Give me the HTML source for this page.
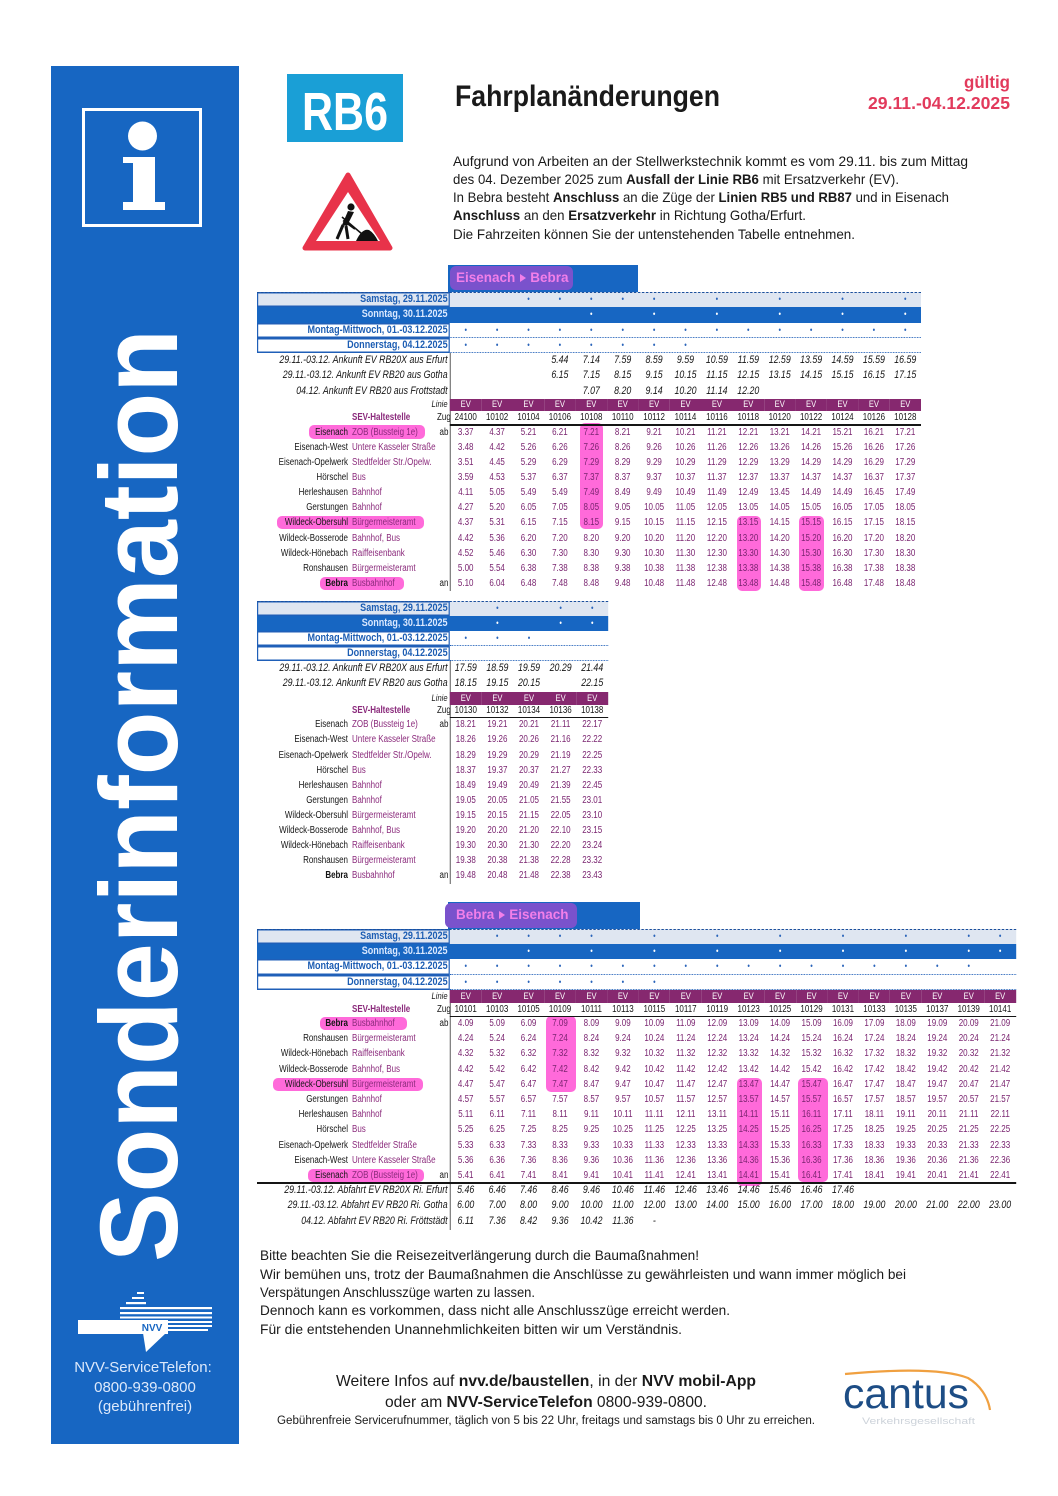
<!DOCTYPE html>
<html><head><meta charset="utf-8"><title>RB6 Fahrplanänderungen</title>
<style>
*{margin:0;padding:0;box-sizing:border-box}
html,body{width:1058px;height:1496px;background:#fff;overflow:hidden}
body{position:relative;font-family:"Liberation Sans",sans-serif;color:#1a1a1a}
.a{position:absolute;white-space:nowrap}
.T{position:absolute;left:257px;transform:scaleX(.8);transform-origin:0 0;font-size:10px;z-index:2}
.r{display:flex;position:relative;white-space:nowrap}
.r>*{flex:none;font-style:normal;font-weight:normal;text-align:center;text-decoration:none}
.T1 i{width:39.25px}.T2 i{width:39.5px}.T3 i{width:39.3px}
.lb{width:241.25px;text-align:right;padding-right:3px;font-weight:bold!important;color:#1c5db3;font-size:11.3px}
.lb2{width:241.25px;text-align:right!important;padding-right:3px}
.tw{width:113.75px;text-align:right!important;color:#151515}
.st{width:111.25px;text-align:left!important;padding-left:5px;color:#8b2b7c;font-size:10px}
.ab{width:16.25px;text-align:right!important;padding-right:2px;color:#151515}
.h{height:15px;line-height:15px}
.h i{font-size:9px;color:#2a64ba}
.sat{background:#dfe6f1}
.sat:before{content:"";position:absolute;left:0;right:0;top:0;border-top:1px dashed #1b4f9c}
.sun{background:#1766c2}.sun .lb{color:#dbe9ff}.sun i{color:#fff}
.sat .lb,.mon .lb,.don .lb{box-shadow:inset 0 0 0 1.5px #1f5fb8}
.mon:after,.don:after{content:"";position:absolute;left:241.25px;right:0;bottom:0;border-bottom:1px dotted #1f5fb8}
.ar{height:15.3px;line-height:15.3px;color:#151515}
.ar>*{font-style:italic!important;font-size:11px}
.ln{height:12.5px;line-height:12.5px}
.ln .lb2{font-style:italic;font-size:9.5px}
.ln i{background:#86286f;color:#fff;font-size:9.5px}
.zg{height:13.5px;line-height:13.5px}
.zg i{color:#151515}
.zg:after{content:"";position:absolute;left:241.25px;right:0;bottom:-1px;height:1.5px;background:#151515}
.sev{font-weight:bold!important;font-size:10px}
.d{height:15.1px;line-height:15.1px}
.d i{color:#7a2470}
.T3 .d{height:15.2px;line-height:15.2px}
.tp:before{content:"";position:absolute;left:0;right:0;top:-1px;height:1.5px;background:#151515}
.vl{position:absolute;left:241px;width:1.2px;background:#333}
.hl{position:absolute;background:#ff5ad6;border-radius:5px;z-index:1;opacity:.9}
.tab{position:absolute;background:#1766c2;z-index:2}
.tabh{position:absolute;background:#7a52cc;border-radius:6px}
.tabt{position:absolute;font-weight:bold;font-size:13.5px;color:#f27fe9;white-space:nowrap;line-height:20px}
.arr{display:inline-block;border-left:6px solid #f27fe9;border-top:4px solid transparent;border-bottom:4px solid transparent;margin:0 4px 1px 5px;vertical-align:middle}
</style></head><body>

<svg class="a" style="left:0;top:0;z-index:0" width="1058" height="1496" viewBox="0 0 1058 1496" font-family="Liberation Sans, sans-serif">
<rect x="51" y="66" width="188" height="1378" fill="#1766c2"/>
<rect x="83.5" y="109.5" width="117" height="116" fill="none" stroke="#fff" stroke-width="3"/>
<circle cx="142.5" cy="136" r="14.5" fill="#fff"/>
<path d="M123,157H155V202H165V210H123V202H133V163H123Z" fill="#fff"/>
<text transform="translate(177,1262) rotate(-90)" font-size="110" font-weight="bold" fill="#fff" textLength="933" lengthAdjust="spacingAndGlyphs">Sonderinformation</text>
<g fill="#fff">
<rect x="137" y="1292" width="7" height="2"/><rect x="132" y="1297" width="12" height="2"/>
<rect x="126" y="1302" width="20" height="2.2"/>
<rect x="120" y="1307" width="92" height="2.2"/>
<rect x="120" y="1312" width="92" height="2.2"/>
<rect x="120" y="1316.5" width="92" height="2"/>
<rect x="78" y="1320" width="90" height="14"/>
<rect x="168" y="1321" width="44" height="2"/><rect x="168" y="1325" width="44" height="2"/><rect x="168" y="1329" width="40" height="2"/>
<polygon points="143,1333 166,1333 146,1352"/>
</g>
<text x="152" y="1331" font-size="10" font-weight="bold" fill="#1766c2" text-anchor="middle">NVV</text>
<text x="143" y="1372" font-size="15" fill="#dde9fb" text-anchor="middle">NVV-ServiceTelefon:</text>
<text x="145" y="1392" font-size="15" fill="#dde9fb" text-anchor="middle">0800-939-0800</text>
<text x="145" y="1411" font-size="15" fill="#dde9fb" text-anchor="middle">(gebührenfrei)</text>

<rect x="287" y="74" width="116" height="68" fill="#1a9fd6"/>
<text x="302" y="130" font-size="54" font-weight="bold" fill="#fff" textLength="86" lengthAdjust="spacingAndGlyphs">RB6</text>
<text x="455" y="106" font-size="30" font-weight="bold" fill="#1a1a1a" textLength="265" lengthAdjust="spacingAndGlyphs">Fahrplanänderungen</text>
<text x="964" y="88" font-size="17.5" font-weight="bold" fill="#e23a5c" textLength="46" lengthAdjust="spacingAndGlyphs">gültig</text>
<text x="868" y="109" font-size="17.5" font-weight="bold" fill="#e23a5c" textLength="142" lengthAdjust="spacingAndGlyphs">29.11.-04.12.2025</text>

<g transform="translate(300,170)">
<polygon points="48,5 90,78 5,78" fill="#e8334a" stroke="#e8334a" stroke-width="5" stroke-linejoin="round"/>
<polygon points="48,22 80,71 16,71" fill="#fff"/>
<circle cx="51" cy="37" r="3.6" fill="#111"/>
<path d="M48,41 L54,42 L47,56 L42,55 Z" fill="#111"/>
<path d="M43,55 L37,69 M46,56 L48,69" stroke="#111" stroke-width="3" fill="none"/>
<path d="M50,44 L44,51 L55,59" stroke="#111" stroke-width="2" fill="none"/>
<path d="M42,47 L62,64" stroke="#111" stroke-width="1.5"/>
<path d="M56,71 Q62,58 69,60 Q74,63 78,71 Z" fill="#111"/>
</g>

<g font-size="14" fill="#1a1a1a">
<text x="453" y="166" textLength="515" lengthAdjust="spacingAndGlyphs">Aufgrund von Arbeiten an der Stellwerkstechnik kommt es vom 29.11. bis zum Mittag</text>
<text x="453" y="184" textLength="446" lengthAdjust="spacingAndGlyphs">des 04. Dezember 2025 zum <tspan font-weight="bold">Ausfall der Linie RB6</tspan>  mit Ersatzverkehr (EV).</text>
<text x="453" y="202" textLength="496" lengthAdjust="spacingAndGlyphs">In Bebra besteht <tspan font-weight="bold">Anschluss</tspan> an die Züge der <tspan font-weight="bold">Linien RB5 und RB87</tspan> und in Eisenach</text>
<text x="453" y="220" textLength="353" lengthAdjust="spacingAndGlyphs"><tspan font-weight="bold">Anschluss</tspan> an den <tspan font-weight="bold">Ersatzverkehr</tspan> in Richtung Gotha/Erfurt.</text>
<text x="453" y="239" textLength="402" lengthAdjust="spacingAndGlyphs">Die Fahrzeiten können Sie der untenstehenden Tabelle entnehmen.</text>
</g>

<g font-size="14" fill="#1a1a1a">
<text x="260" y="1260" textLength="439" lengthAdjust="spacingAndGlyphs">Bitte beachten Sie die Reisezeitverlängerung durch die Baumaßnahmen!</text>
<text x="260" y="1279" textLength="646" lengthAdjust="spacingAndGlyphs">Wir bemühen uns, trotz der Baumaßnahmen die Anschlüsse zu gewährleisten und wann immer möglich bei</text>
<text x="260" y="1297" textLength="275" lengthAdjust="spacingAndGlyphs">Verspätungen Anschlusszüge warten zu lassen.</text>
<text x="260" y="1315" textLength="470" lengthAdjust="spacingAndGlyphs">Dennoch kann es vorkommen, dass nicht alle Anschlusszüge erreicht werden.</text>
<text x="260" y="1334" textLength="422" lengthAdjust="spacingAndGlyphs">Für die entstehenden Unannehmlichkeiten bitten wir um Verständnis.</text>
</g>
<text x="336" y="1386" font-size="16" fill="#1a1a1a" textLength="420" lengthAdjust="spacingAndGlyphs">Weitere Infos auf <tspan font-weight="bold">nvv.de/baustellen</tspan>, in der <tspan font-weight="bold">NVV mobil-App</tspan></text>
<text x="385" y="1407" font-size="16" fill="#1a1a1a" textLength="322" lengthAdjust="spacingAndGlyphs">oder am <tspan font-weight="bold">NVV-ServiceTelefon</tspan> 0800-939-0800.</text>
<text x="277" y="1424" font-size="11.5" fill="#1a1a1a" textLength="538" lengthAdjust="spacingAndGlyphs">Gebührenfreie Servicerufnummer, täglich von 5 bis 22 Uhr, freitags und samstags bis 0 Uhr zu erreichen.</text>

<path d="M845,1374 C900,1369 945,1369 968,1378 C980,1385 988,1397 990,1410" fill="none" stroke="#f0a040" stroke-width="2.2"/>
<text x="843" y="1408" font-size="43" fill="#1d4d85" textLength="126" lengthAdjust="spacingAndGlyphs">cantus</text>
<text x="862" y="1424" font-size="9.5" fill="#cdd3da" textLength="113" lengthAdjust="spacingAndGlyphs">Verkehrsgesellschaft</text>
</svg>

<!-- highlights -->
<div class="hl" style="left:580px;top:423px;width:23px;height:106px"></div>
<div class="hl" style="left:737px;top:516px;width:24px;height:75px"></div>
<div class="hl" style="left:799px;top:516px;width:25px;height:75px"></div>
<div class="hl" style="left:309px;top:425px;width:116px;height:14px"></div>
<div class="hl" style="left:277px;top:516px;width:147px;height:13px"></div>
<div class="hl" style="left:320px;top:577px;width:84px;height:13px"></div>
<div class="hl" style="left:546px;top:1016px;width:30px;height:76px"></div>
<div class="hl" style="left:737px;top:1078px;width:25px;height:108px"></div>
<div class="hl" style="left:798px;top:1078px;width:30px;height:104px"></div>
<div class="hl" style="left:320px;top:1017px;width:87px;height:13px"></div>
<div class="hl" style="left:273px;top:1078px;width:150px;height:13px"></div>
<div class="hl" style="left:308px;top:1169px;width:116px;height:13px"></div>

<!-- tabs -->
<div class="tab" style="left:448px;top:265px;width:190px;height:27px">
<div class="tabh" style="left:2px;top:1px;width:123px;height:24px"></div>
<div class="tabt" style="left:8px;top:3px">Eisenach<span class="arr"></span>Bebra</div></div>
<div class="tab" style="left:448px;top:902px;width:192px;height:27px">
<div class="tabh" style="left:-3px;top:1px;width:132px;height:25px"></div>
<div class="tabt" style="left:8px;top:3px">Bebra<span class="arr"></span>Eisenach</div></div>

<!-- TABLE 1 -->
<div class="T T1" style="top:292px;width:830px">
<div class="vl" style="top:61px;height:238px"></div>
<div class="r h sat"><b class="lb">Samstag, 29.11.2025</b><i></i><i></i><i>•</i><i>•</i><i>•</i><i>•</i><i>•</i><i></i><i>•</i><i></i><i>•</i><i></i><i>•</i><i></i><i>•</i></div>
<div class="r h sun" style="height:15.5px;line-height:15.5px"><b class="lb">Sonntag, 30.11.2025</b><i></i><i></i><i></i><i></i><i>•</i><i></i><i>•</i><i></i><i>•</i><i></i><i>•</i><i></i><i>•</i><i></i><i>•</i></div>
<div class="r h mon" style="height:15.5px;line-height:15.5px"><b class="lb">Montag-Mittwoch, 01.-03.12.2025</b><i>•</i><i>•</i><i>•</i><i>•</i><i>•</i><i>•</i><i>•</i><i>•</i><i>•</i><i>•</i><i>•</i><i>•</i><i>•</i><i>•</i><i>•</i></div>
<div class="r h don"><b class="lb">Donnerstag, 04.12.2025</b><i>•</i><i>•</i><i>•</i><i>•</i><i>•</i><i>•</i><i>•</i><i>•</i><i></i><i></i><i></i><i></i><i></i><i></i><i></i></div>
<div class="r ar"><span class="lb2">29.11.-03.12. Ankunft EV RB20X aus Erfurt</span><i></i><i></i><i></i><i>5.44</i><i>7.14</i><i>7.59</i><i>8.59</i><i>9.59</i><i>10.59</i><i>11.59</i><i>12.59</i><i>13.59</i><i>14.59</i><i>15.59</i><i>16.59</i></div>
<div class="r ar"><span class="lb2">29.11.-03.12. Ankunft EV RB20 aus Gotha</span><i></i><i></i><i></i><i>6.15</i><i>7.15</i><i>8.15</i><i>9.15</i><i>10.15</i><i>11.15</i><i>12.15</i><i>13.15</i><i>14.15</i><i>15.15</i><i>16.15</i><i>17.15</i></div>
<div class="r ar"><span class="lb2">04.12. Ankunft EV RB20 aus Frottstadt</span><i></i><i></i><i></i><i></i><i>7.07</i><i>8.20</i><i>9.14</i><i>10.20</i><i>11.14</i><i>12.20</i></div>
<div class="r ln"><span class="lb2">Linie</span><i>EV</i><i>EV</i><i>EV</i><i>EV</i><i>EV</i><i>EV</i><i>EV</i><i>EV</i><i>EV</i><i>EV</i><i>EV</i><i>EV</i><i>EV</i><i>EV</i><i>EV</i></div>
<div class="r zg"><span class="tw"></span><b class="st sev">SEV-Haltestelle</b><span class="ab">Zug</span><i>24100</i><i>10102</i><i>10104</i><i>10106</i><i>10108</i><i>10110</i><i>10112</i><i>10114</i><i>10116</i><i>10118</i><i>10120</i><i>10122</i><i>10124</i><i>10126</i><i>10128</i></div>
<div class="r d"><span class="tw">Eisenach</span><span class="st">ZOB (Bussteig 1e)</span><span class="ab">ab</span><i>3.37</i><i>4.37</i><i>5.21</i><i>6.21</i><i>7.21</i><i>8.21</i><i>9.21</i><i>10.21</i><i>11.21</i><i>12.21</i><i>13.21</i><i>14.21</i><i>15.21</i><i>16.21</i><i>17.21</i></div>
<div class="r d"><span class="tw">Eisenach-West</span><span class="st">Untere Kasseler Straße</span><span class="ab"></span><i>3.48</i><i>4.42</i><i>5.26</i><i>6.26</i><i>7.26</i><i>8.26</i><i>9.26</i><i>10.26</i><i>11.26</i><i>12.26</i><i>13.26</i><i>14.26</i><i>15.26</i><i>16.26</i><i>17.26</i></div>
<div class="r d"><span class="tw">Eisenach-Opelwerk</span><span class="st">Stedtfelder Str./Opelw.</span><span class="ab"></span><i>3.51</i><i>4.45</i><i>5.29</i><i>6.29</i><i>7.29</i><i>8.29</i><i>9.29</i><i>10.29</i><i>11.29</i><i>12.29</i><i>13.29</i><i>14.29</i><i>14.29</i><i>16.29</i><i>17.29</i></div>
<div class="r d"><span class="tw">Hörschel</span><span class="st">Bus</span><span class="ab"></span><i>3.59</i><i>4.53</i><i>5.37</i><i>6.37</i><i>7.37</i><i>8.37</i><i>9.37</i><i>10.37</i><i>11.37</i><i>12.37</i><i>13.37</i><i>14.37</i><i>14.37</i><i>16.37</i><i>17.37</i></div>
<div class="r d"><span class="tw">Herleshausen</span><span class="st">Bahnhof</span><span class="ab"></span><i>4.11</i><i>5.05</i><i>5.49</i><i>5.49</i><i>7.49</i><i>8.49</i><i>9.49</i><i>10.49</i><i>11.49</i><i>12.49</i><i>13.45</i><i>14.49</i><i>14.49</i><i>16.45</i><i>17.49</i></div>
<div class="r d"><span class="tw">Gerstungen</span><span class="st">Bahnhof</span><span class="ab"></span><i>4.27</i><i>5.20</i><i>6.05</i><i>7.05</i><i>8.05</i><i>9.05</i><i>10.05</i><i>11.05</i><i>12.05</i><i>13.05</i><i>14.05</i><i>15.05</i><i>16.05</i><i>17.05</i><i>18.05</i></div>
<div class="r d"><span class="tw">Wildeck-Obersuhl</span><span class="st">Bürgermeisteramt</span><span class="ab"></span><i>4.37</i><i>5.31</i><i>6.15</i><i>7.15</i><i>8.15</i><i>9.15</i><i>10.15</i><i>11.15</i><i>12.15</i><i>13.15</i><i>14.15</i><i>15.15</i><i>16.15</i><i>17.15</i><i>18.15</i></div>
<div class="r d"><span class="tw">Wildeck-Bosserode</span><span class="st">Bahnhof, Bus</span><span class="ab"></span><i>4.42</i><i>5.36</i><i>6.20</i><i>7.20</i><i>8.20</i><i>9.20</i><i>10.20</i><i>11.20</i><i>12.20</i><i>13.20</i><i>14.20</i><i>15.20</i><i>16.20</i><i>17.20</i><i>18.20</i></div>
<div class="r d"><span class="tw">Wildeck-Hönebach</span><span class="st">Raiffeisenbank</span><span class="ab"></span><i>4.52</i><i>5.46</i><i>6.30</i><i>7.30</i><i>8.30</i><i>9.30</i><i>10.30</i><i>11.30</i><i>12.30</i><i>13.30</i><i>14.30</i><i>15.30</i><i>16.30</i><i>17.30</i><i>18.30</i></div>
<div class="r d"><span class="tw">Ronshausen</span><span class="st">Bürgermeisteramt</span><span class="ab"></span><i>5.00</i><i>5.54</i><i>6.38</i><i>7.38</i><i>8.38</i><i>9.38</i><i>10.38</i><i>11.38</i><i>12.38</i><i>13.38</i><i>14.38</i><i>15.38</i><i>16.38</i><i>17.38</i><i>18.38</i></div>
<div class="r d"><span class="tw"><b>Bebra</b></span><span class="st">Busbahnhof</span><span class="ab">an</span><i>5.10</i><i>6.04</i><i>6.48</i><i>7.48</i><i>8.48</i><i>9.48</i><i>10.48</i><i>11.48</i><i>12.48</i><i>13.48</i><i>14.48</i><i>15.48</i><i>16.48</i><i>17.48</i><i>18.48</i></div>
</div>

<!-- TABLE 2 -->
<div class="T T2" style="top:600.5px;width:438.75px">
<div class="vl" style="top:60.5px;height:223px"></div>
<div class="r h sat" style="height:15.5px;line-height:15.5px"><b class="lb">Samstag, 29.11.2025</b><i></i><i>•</i><i></i><i>•</i><i>•</i></div>
<div class="r h sun"><b class="lb">Sonntag, 30.11.2025</b><i></i><i>•</i><i></i><i>•</i><i>•</i></div>
<div class="r h mon"><b class="lb">Montag-Mittwoch, 01.-03.12.2025</b><i>•</i><i>•</i><i>•</i><i></i><i></i></div>
<div class="r h don"><b class="lb">Donnerstag, 04.12.2025</b><i></i><i></i><i></i><i></i><i></i></div>
<div class="r ar"><span class="lb2">29.11.-03.12. Ankunft EV RB20X aus Erfurt</span><i>17.59</i><i>18.59</i><i>19.59</i><i>20.29</i><i>21.44</i></div>
<div class="r ar"><span class="lb2">29.11.-03.12. Ankunft EV RB20 aus Gotha</span><i>18.15</i><i>19.15</i><i>20.15</i><i></i><i>22.15</i></div>
<div class="r ln" style="height:13px;line-height:13px"><span class="lb2">Linie</span><i>EV</i><i>EV</i><i>EV</i><i>EV</i><i>EV</i></div>
<div class="r zg" style="height:12.8px;line-height:12.8px"><span class="tw"></span><b class="st sev">SEV-Haltestelle</b><span class="ab">Zug</span><i>10130</i><i>10132</i><i>10134</i><i>10136</i><i>10138</i></div>
<div class="r d"><span class="tw">Eisenach</span><span class="st">ZOB (Bussteig 1e)</span><span class="ab">ab</span><i>18.21</i><i>19.21</i><i>20.21</i><i>21.11</i><i>22.17</i></div>
<div class="r d"><span class="tw">Eisenach-West</span><span class="st">Untere Kasseler Straße</span><span class="ab"></span><i>18.26</i><i>19.26</i><i>20.26</i><i>21.16</i><i>22.22</i></div>
<div class="r d"><span class="tw">Eisenach-Opelwerk</span><span class="st">Stedtfelder Str./Opelw.</span><span class="ab"></span><i>18.29</i><i>19.29</i><i>20.29</i><i>21.19</i><i>22.25</i></div>
<div class="r d"><span class="tw">Hörschel</span><span class="st">Bus</span><span class="ab"></span><i>18.37</i><i>19.37</i><i>20.37</i><i>21.27</i><i>22.33</i></div>
<div class="r d"><span class="tw">Herleshausen</span><span class="st">Bahnhof</span><span class="ab"></span><i>18.49</i><i>19.49</i><i>20.49</i><i>21.39</i><i>22.45</i></div>
<div class="r d"><span class="tw">Gerstungen</span><span class="st">Bahnhof</span><span class="ab"></span><i>19.05</i><i>20.05</i><i>21.05</i><i>21.55</i><i>23.01</i></div>
<div class="r d"><span class="tw">Wildeck-Obersuhl</span><span class="st">Bürgermeisteramt</span><span class="ab"></span><i>19.15</i><i>20.15</i><i>21.15</i><i>22.05</i><i>23.10</i></div>
<div class="r d"><span class="tw">Wildeck-Bosserode</span><span class="st">Bahnhof, Bus</span><span class="ab"></span><i>19.20</i><i>20.20</i><i>21.20</i><i>22.10</i><i>23.15</i></div>
<div class="r d"><span class="tw">Wildeck-Hönebach</span><span class="st">Raiffeisenbank</span><span class="ab"></span><i>19.30</i><i>20.30</i><i>21.30</i><i>22.20</i><i>23.24</i></div>
<div class="r d"><span class="tw">Ronshausen</span><span class="st">Bürgermeisteramt</span><span class="ab"></span><i>19.38</i><i>20.38</i><i>21.38</i><i>22.28</i><i>23.32</i></div>
<div class="r d"><span class="tw"><b>Bebra</b></span><span class="st">Busbahnhof</span><span class="ab">an</span><i>19.48</i><i>20.48</i><i>21.48</i><i>22.38</i><i>23.43</i></div>
</div>

<!-- TABLE 3 -->
<div class="T T3" style="top:929px;width:948.65px">
<div class="vl" style="top:60.5px;height:240px"></div>
<div class="r h sat"><b class="lb">Samstag, 29.11.2025</b><i></i><i>•</i><i>•</i><i>•</i><i>•</i><i></i><i>•</i><i></i><i>•</i><i></i><i>•</i><i></i><i>•</i><i></i><i>•</i><i></i><i>•</i><i>•</i></div>
<div class="r h sun"><b class="lb">Sonntag, 30.11.2025</b><i></i><i></i><i>•</i><i></i><i>•</i><i></i><i>•</i><i></i><i>•</i><i></i><i>•</i><i></i><i>•</i><i></i><i>•</i><i></i><i>•</i><i>•</i></div>
<div class="r h mon" style="height:15.5px;line-height:15.5px"><b class="lb">Montag-Mittwoch, 01.-03.12.2025</b><i>•</i><i>•</i><i>•</i><i>•</i><i>•</i><i>•</i><i>•</i><i>•</i><i>•</i><i>•</i><i>•</i><i>•</i><i>•</i><i>•</i><i>•</i><i>•</i><i>•</i><i></i></div>
<div class="r h don"><b class="lb">Donnerstag, 04.12.2025</b><i>•</i><i>•</i><i>•</i><i>•</i><i>•</i><i>•</i><i>•</i><i></i><i></i><i></i><i></i><i></i><i></i><i></i><i></i><i></i><i></i><i></i></div>
<div class="r ln" style="height:13px;line-height:13px"><span class="lb2">Linie</span><i>EV</i><i>EV</i><i>EV</i><i>EV</i><i>EV</i><i>EV</i><i>EV</i><i>EV</i><i>EV</i><i>EV</i><i>EV</i><i>EV</i><i>EV</i><i>EV</i><i>EV</i><i>EV</i><i>EV</i><i>EV</i></div>
<div class="r zg"><span class="tw"></span><b class="st sev">SEV-Haltestelle</b><span class="ab">Zug</span><i>10101</i><i>10103</i><i>10105</i><i>10109</i><i>10111</i><i>10113</i><i>10115</i><i>10117</i><i>10119</i><i>10123</i><i>10125</i><i>10129</i><i>10131</i><i>10133</i><i>10135</i><i>10137</i><i>10139</i><i>10141</i></div>
<div class="r d"><span class="tw"><b>Bebra</b></span><span class="st">Busbahnhof</span><span class="ab">ab</span><i>4.09</i><i>5.09</i><i>6.09</i><i>7.09</i><i>8.09</i><i>9.09</i><i>10.09</i><i>11.09</i><i>12.09</i><i>13.09</i><i>14.09</i><i>15.09</i><i>16.09</i><i>17.09</i><i>18.09</i><i>19.09</i><i>20.09</i><i>21.09</i></div>
<div class="r d"><span class="tw">Ronshausen</span><span class="st">Bürgermeisteramt</span><span class="ab"></span><i>4.24</i><i>5.24</i><i>6.24</i><i>7.24</i><i>8.24</i><i>9.24</i><i>10.24</i><i>11.24</i><i>12.24</i><i>13.24</i><i>14.24</i><i>15.24</i><i>16.24</i><i>17.24</i><i>18.24</i><i>19.24</i><i>20.24</i><i>21.24</i></div>
<div class="r d"><span class="tw">Wildeck-Hönebach</span><span class="st">Raiffeisenbank</span><span class="ab"></span><i>4.32</i><i>5.32</i><i>6.32</i><i>7.32</i><i>8.32</i><i>9.32</i><i>10.32</i><i>11.32</i><i>12.32</i><i>13.32</i><i>14.32</i><i>15.32</i><i>16.32</i><i>17.32</i><i>18.32</i><i>19.32</i><i>20.32</i><i>21.32</i></div>
<div class="r d"><span class="tw">Wildeck-Bosserode</span><span class="st">Bahnhof, Bus</span><span class="ab"></span><i>4.42</i><i>5.42</i><i>6.42</i><i>7.42</i><i>8.42</i><i>9.42</i><i>10.42</i><i>11.42</i><i>12.42</i><i>13.42</i><i>14.42</i><i>15.42</i><i>16.42</i><i>17.42</i><i>18.42</i><i>19.42</i><i>20.42</i><i>21.42</i></div>
<div class="r d"><span class="tw">Wildeck-Obersuhl</span><span class="st">Bürgermeisteramt</span><span class="ab"></span><i>4.47</i><i>5.47</i><i>6.47</i><i>7.47</i><i>8.47</i><i>9.47</i><i>10.47</i><i>11.47</i><i>12.47</i><i>13.47</i><i>14.47</i><i>15.47</i><i>16.47</i><i>17.47</i><i>18.47</i><i>19.47</i><i>20.47</i><i>21.47</i></div>
<div class="r d"><span class="tw">Gerstungen</span><span class="st">Bahnhof</span><span class="ab"></span><i>4.57</i><i>5.57</i><i>6.57</i><i>7.57</i><i>8.57</i><i>9.57</i><i>10.57</i><i>11.57</i><i>12.57</i><i>13.57</i><i>14.57</i><i>15.57</i><i>16.57</i><i>17.57</i><i>18.57</i><i>19.57</i><i>20.57</i><i>21.57</i></div>
<div class="r d"><span class="tw">Herleshausen</span><span class="st">Bahnhof</span><span class="ab"></span><i>5.11</i><i>6.11</i><i>7.11</i><i>8.11</i><i>9.11</i><i>10.11</i><i>11.11</i><i>12.11</i><i>13.11</i><i>14.11</i><i>15.11</i><i>16.11</i><i>17.11</i><i>18.11</i><i>19.11</i><i>20.11</i><i>21.11</i><i>22.11</i></div>
<div class="r d"><span class="tw">Hörschel</span><span class="st">Bus</span><span class="ab"></span><i>5.25</i><i>6.25</i><i>7.25</i><i>8.25</i><i>9.25</i><i>10.25</i><i>11.25</i><i>12.25</i><i>13.25</i><i>14.25</i><i>15.25</i><i>16.25</i><i>17.25</i><i>18.25</i><i>19.25</i><i>20.25</i><i>21.25</i><i>22.25</i></div>
<div class="r d"><span class="tw">Eisenach-Opelwerk</span><span class="st">Stedtfelder Straße</span><span class="ab"></span><i>5.33</i><i>6.33</i><i>7.33</i><i>8.33</i><i>9.33</i><i>10.33</i><i>11.33</i><i>12.33</i><i>13.33</i><i>14.33</i><i>15.33</i><i>16.33</i><i>17.33</i><i>18.33</i><i>19.33</i><i>20.33</i><i>21.33</i><i>22.33</i></div>
<div class="r d"><span class="tw">Eisenach-West</span><span class="st">Untere Kasseler Straße</span><span class="ab"></span><i>5.36</i><i>6.36</i><i>7.36</i><i>8.36</i><i>9.36</i><i>10.36</i><i>11.36</i><i>12.36</i><i>13.36</i><i>14.36</i><i>15.36</i><i>16.36</i><i>17.36</i><i>18.36</i><i>19.36</i><i>20.36</i><i>21.36</i><i>22.36</i></div>
<div class="r d"><span class="tw">Eisenach</span><span class="st">ZOB (Bussteig 1e)</span><span class="ab">an</span><i>5.41</i><i>6.41</i><i>7.41</i><i>8.41</i><i>9.41</i><i>10.41</i><i>11.41</i><i>12.41</i><i>13.41</i><i>14.41</i><i>15.41</i><i>16.41</i><i>17.41</i><i>18.41</i><i>19.41</i><i>20.41</i><i>21.41</i><i>22.41</i></div>
<div class="r ar tp"><span class="lb2">29.11.-03.12. Abfahrt EV RB20X Ri. Erfurt</span><i>5.46</i><i>6.46</i><i>7.46</i><i>8.46</i><i>9.46</i><i>10.46</i><i>11.46</i><i>12.46</i><i>13.46</i><i>14.46</i><i>15.46</i><i>16.46</i><i>17.46</i></div>
<div class="r ar"><span class="lb2">29.11.-03.12. Abfahrt EV RB20 Ri. Gotha</span><i>6.00</i><i>7.00</i><i>8.00</i><i>9.00</i><i>10.00</i><i>11.00</i><i>12.00</i><i>13.00</i><i>14.00</i><i>15.00</i><i>16.00</i><i>17.00</i><i>18.00</i><i>19.00</i><i>20.00</i><i>21.00</i><i>22.00</i><i>23.00</i></div>
<div class="r ar"><span class="lb2">04.12. Abfahrt EV RB20 Ri. Fröttstädt</span><i>6.11</i><i>7.36</i><i>8.42</i><i>9.36</i><i>10.42</i><i>11.36</i><i>-</i></div>
</div>

</body></html>
